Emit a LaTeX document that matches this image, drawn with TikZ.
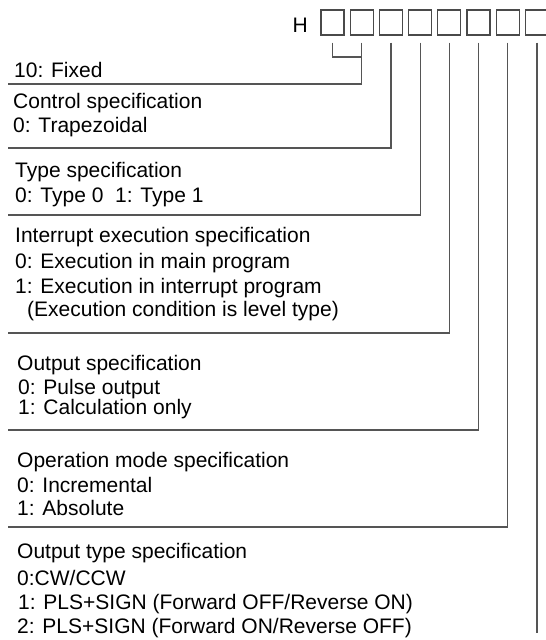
\documentclass[tikz,border=0pt]{standalone}
\usepackage{fontspec}
\setmainfont{Liberation Sans}
\usetikzlibrary{positioning,calc}
\definecolor{LineGray}{HTML}{555555}
\definecolor{BoxGray}{HTML}{4A4A4A}

\begin{document}
\begin{tikzpicture}[x=1pt, y=-1pt,
    digit/.style={rectangle, draw=BoxGray, line width=1.2pt, minimum width=23pt, minimum height=25pt, inner sep=0pt},
    txt/.style={anchor=base west, inner sep=0pt, font=\fontsize{21}{24}\selectfont},
    lead/.style={draw=LineGray, line width=1.2pt, shorten <=7pt}
]
\useasboundingbox (0,0) rectangle (546,640);

% code word H + 8 digits
\node[txt, anchor=base east] (hchar) at (308,32) {H};
\foreach \i in {1,...,8}
  \node[digit] (b\i) at ({332.5+29.2*(\i-1)},22.5) {};

% texts
\node[txt] (fix) at (14,77) {10: Fixed};
\node[txt] (ctl) at (13,108) {Control specification};
\node[txt] (ctl0) at (13,132) {0: Trapezoidal};
\node[txt] (typ) at (15,177) {Type specification};
\node[txt] (typ0) at (15,202) {0: Type 0\ \ 1: Type 1};
\node[txt] (int) at (15,242) {Interrupt execution specification};
\node[txt] (int0) at (15,268) {0: Execution in main program};
\node[txt] (int1) at (15,293) {1: Execution in interrupt program};
\node[txt] (int2) at (27,316) {(Execution condition is level type)};
\node[txt] (out) at (17,370) {Output specification};
\node[txt] (out0) at (18,394) {0: Pulse output};
\node[txt] (out1) at (18,414) {1: Calculation only};
\node[txt] (mod) at (17,467) {Operation mode specification};
\node[txt] (mod0) at (17,492) {0: Incremental};
\node[txt] (mod1) at (17,515) {1: Absolute};
\node[txt] (pul) at (17,558) {Output type specification};
\node[txt] (pul0) at (17,585) {0:CW/CCW};
\node[txt] (pul1) at (18,609) {1: PLS+SIGN (Forward OFF/Reverse ON)};
\node[txt] (pul2) at (17,633) {2: PLS+SIGN (Forward ON/Reverse OFF)};

% free ends of the leader lines
\coordinate (fixend) at (8,84);
\coordinate (ctlend) at (8,148);
\coordinate (typend) at (8,215);
\coordinate (intend) at (8,333);
\coordinate (outend) at (8,430);
\coordinate (modend) at (8,527);
\coordinate (pulend) at (b8 |- 0,633);

% leaders
\draw[lead] (b1.south) |- (b2 |- 0,57);
\draw[lead] (b2.south) |- (fixend);
\draw[lead] (b3.south) |- (ctlend);
\draw[lead] (b4.south) |- (typend);
\draw[lead] (b5.south) |- (intend);
\draw[lead] (b6.south) |- (outend);
\draw[lead] (b7.south) |- (modend);
\draw[lead] (b8.south) -- (pulend);
\end{tikzpicture}
\end{document}
